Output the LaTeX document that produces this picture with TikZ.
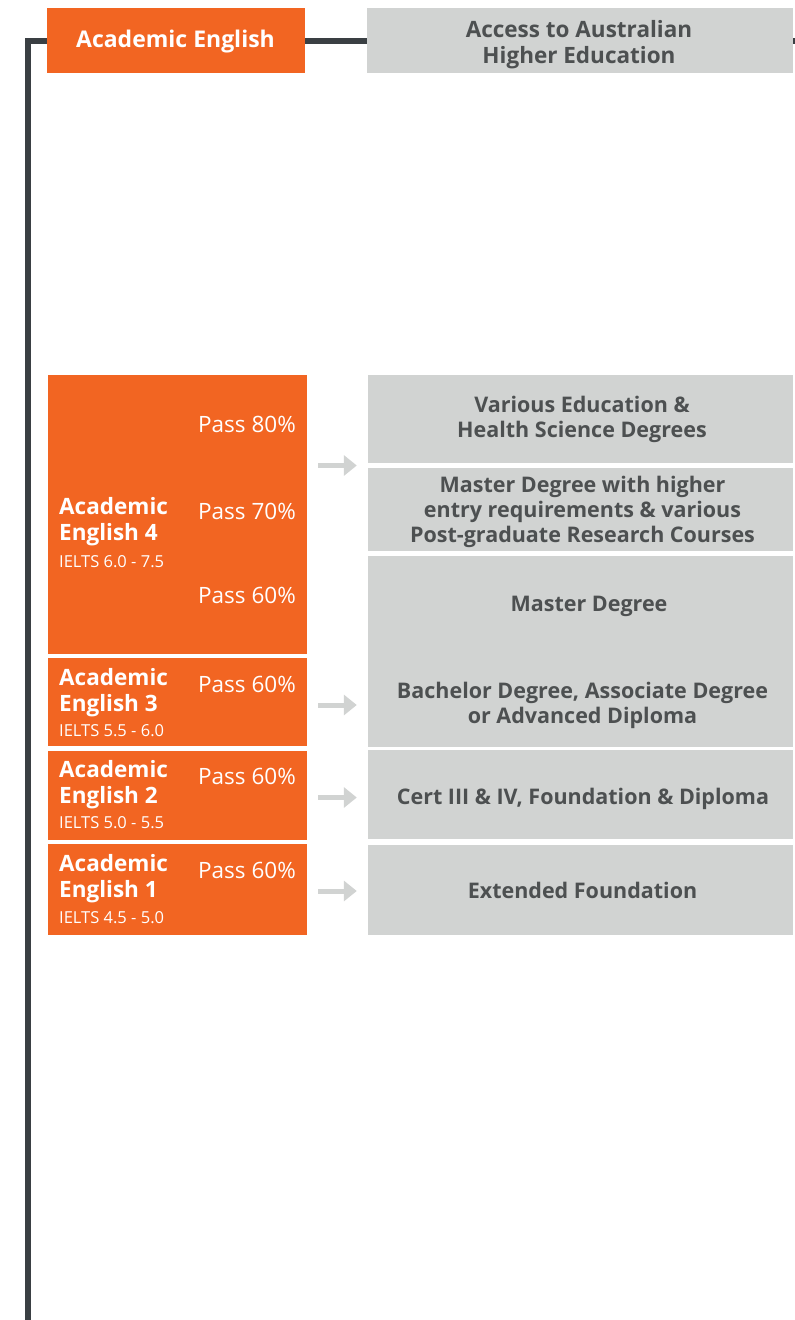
\documentclass[tikz,border=0pt]{standalone}
\usepackage{fontspec}
\setmainfont{Open Sans}
\usetikzlibrary{arrows.meta,calc}
\definecolor{aeorange}{HTML}{F26522}
\definecolor{boxgray}{HTML}{D1D3D2}
\definecolor{txtgray}{HTML}{4D5051}
\definecolor{linedark}{HTML}{3A3F43}
\tikzset{
  obox/.style={rectangle, fill=aeorange, draw=none, inner sep=0pt},
  gbox/.style={rectangle, fill=boxgray, draw=none, inner sep=0pt, minimum width=425pt},
  glabel/.style={align=center, text=txtgray, inner sep=0pt, anchor=base,
     font=\fontsize{21.5}{25}\selectfont\bfseries},
  title/.style={text=white, font=\fontsize{22.5}{26}\selectfont\bfseries, align=left, inner sep=0pt, anchor=base west},
  ielts/.style={text=white, font=\fontsize{16.5}{20}\selectfont, inner sep=0pt, anchor=base west},
  pass/.style={text=white, font=\fontsize{22.5}{28}\selectfont, inner sep=0pt, anchor=base east},
  darkline/.style={draw=linedark, line width=6pt, line join=miter},
  garrow/.style={draw=boxgray, line width=5pt, -{Triangle[length=13pt,width=20pt]}, shorten <=11pt, shorten >=11pt},
}
\begin{document}
\begin{tikzpicture}[x=1pt, y={(0pt,-1pt)}]
\useasboundingbox (0,0) rectangle (795,1320);
% header
\node[obox, minimum width=258pt, minimum height=65pt] (ae) at (176,40.5) {};
\node[gbox, minimum width=426pt, minimum height=65pt] (access) at (580,40.5) {};
\node[text=white, inner sep=0pt, anchor=base, font=\fontsize{23}{26}\selectfont\bfseries] (aelbl) at (175.5,47) {Academic English};
\node[glabel, font=\fontsize{22.5}{26}\selectfont\bfseries] (accesslbl) at (579,63) {Access to Australian\\Higher Education};
\coordinate (bottomend) at (27.5,1322);
\coordinate (rightend) at (797,40.5);
\draw[darkline] (ae.west) -| (bottomend);
\draw[darkline] (ae.east) -- (access.west);
\draw[darkline] (access.east) -- (rightend);
% orange blocks
\node[obox, minimum width=259pt, minimum height=279pt] (ae4) at (177.5,514.5) {};
\node[obox, minimum width=259pt, minimum height=88pt] (ae3) at (177.5,702) {};
\node[obox, minimum width=259pt, minimum height=89pt] (ae2) at (177.5,795.5) {};
\node[obox, minimum width=259pt, minimum height=91pt] (ae1) at (177.5,889.5) {};
% block texts
\node[title] (t4) at (59,540) {Academic\\English 4};
\node[ielts] (i4) at (59,567) {IELTS 6.0 - 7.5};
\node[pass] (p80) at (296,432) {Pass 80\%};
\node[pass] (p70) at (296,519) {Pass 70\%};
\node[pass] (p60a) at (296,603) {Pass 60\%};
\node[title] (t3) at (59,711) {Academic\\English 3};
\node[ielts] (i3) at (59,736) {IELTS 5.5 - 6.0};
\node[pass] (p3) at (296,692) {Pass 60\%};
\node[title] (t2) at (59,803) {Academic\\English 2};
\node[ielts] (i2) at (59,828) {IELTS 5.0 - 5.5};
\node[pass] (p2) at (296,784) {Pass 60\%};
\node[title] (t1) at (59,897) {Academic\\English 1};
\node[ielts] (i1) at (59,923) {IELTS 4.5 - 5.0};
\node[pass] (p1) at (296,878) {Pass 60\%};
% gray boxes
\node[gbox, minimum height=88pt] (various) at (580.5,419) {};
\node[gbox, minimum height=83pt] (mhigh) at (580.5,509.5) {};
\node[gbox, minimum height=91pt] (master) at (580.5,601.5) {};
\node[gbox, minimum height=100pt] (bach) at (580.5,697) {};
\node[gbox, minimum height=89pt] (cert) at (580.5,794.5) {};
\node[gbox, minimum height=90pt] (ext) at (580.5,890) {};
\node[glabel] (variouslbl) at (582,437) {Various Education \&\\Health Science Degrees};
\node[glabel] (mhighlbl) at (582.5,542) {Master Degree with higher\\entry requirements \& various\\Post-graduate Research Courses};
\node[glabel] (masterlbl) at (589,611) {Master Degree};
\node[glabel] (bachlbl) at (582.5,723) {Bachelor Degree, Associate Degree\\or Advanced Diploma};
\node[glabel] (certlbl) at (583,804) {Cert III \& IV, Foundation \& Diploma};
\node[glabel] (extlbl) at (582.5,898) {Extended Foundation};
% arrows
\coordinate (a4s) at (307,465.5);
\draw[garrow] (a4s) -- (a4s -| various.west);
\draw[garrow] ([yshift=-3pt]ae3.east) -- ([yshift=-3pt]ae3.east -| bach.west);
\draw[garrow] ([yshift=-2pt]ae2.east) -- ([yshift=-2pt]ae2.east -| cert.west);
\draw[garrow] ([yshift=-1.5pt]ae1.east) -- ([yshift=-1.5pt]ae1.east -| ext.west);
\end{tikzpicture}
\end{document}
